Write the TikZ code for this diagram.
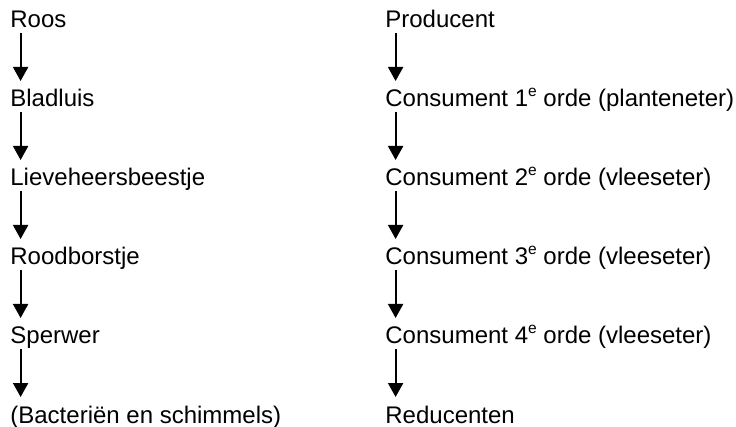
\documentclass[tikz,border=0pt]{standalone}
\usepackage{fontspec}
\setmainfont{Liberation Sans}
\usetikzlibrary{arrows.meta}
% small raised "e" for ordinals
\newcommand{\ordsup}{\raisebox{10.5pt}{\fontsize{15.5}{15.5}\selectfont e}}
\begin{document}
\begin{tikzpicture}[x=1pt,y=1pt,
  lbl/.style={anchor=base west,inner sep=0pt,outer sep=0pt,
    font=\fontsize{24}{28}\selectfont},
  flow/.style={line width=2pt,-{Triangle[width=15pt,length=14pt]}}]
\useasboundingbox (0,0) rectangle (736,-427);
% left column: the food chain
\node[lbl] (l1) at (10.4,-28)  {Roos};
\node[lbl] (l2) at (10.4,-107) {Bladluis};
\node[lbl] (l3) at (10.4,-186) {Lieveheersbeestje};
\node[lbl] (l4) at (10.4,-265) {Roodborstje};
\node[lbl] (l5) at (10.4,-344) {Sperwer};
\node[lbl] (l6) at (10.4,-423) {(Bacteriën en schimmels)};
% right column: trophic levels
\node[lbl] (r1) at (385.4,-28)  {Producent};
\node[lbl] (r2) at (385.4,-107) {Consument 1\ordsup{} orde (planteneter)};
\node[lbl] (r3) at (385.4,-186) {Consument 2\ordsup{} orde (vleeseter)};
\node[lbl] (r4) at (385.4,-265) {Consument 3\ordsup{} orde (vleeseter)};
\node[lbl] (r5) at (385.4,-344) {Consument 4\ordsup{} orde (vleeseter)};
\node[lbl] (r6) at (385.4,-423) {Reducenten};
% arrows between successive rows
\foreach \c in {l,r}{
  \foreach \a/\b in {1/2,2/3,3/4,4/5,5/6}{
    \draw[flow] ([xshift=10.2pt,yshift=-5pt]\c\a.base west) --
                ([xshift=10.2pt,yshift=26pt]\c\b.base west);
  }
}
\end{tikzpicture}
\end{document}
